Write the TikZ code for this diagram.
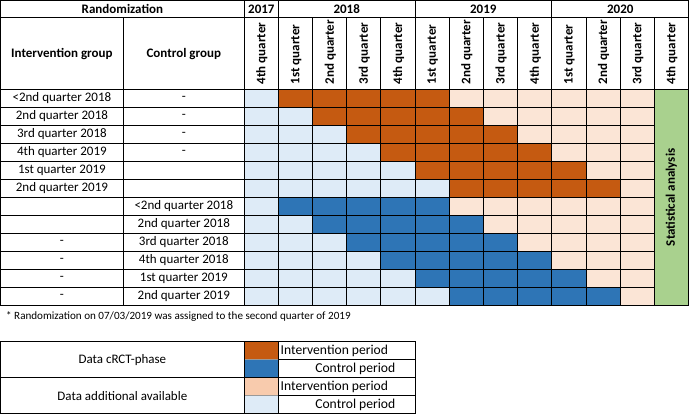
\documentclass[tikz,border=0pt]{standalone}
\usepackage{fontspec}
\setmainfont{Carlito}
\definecolor{dor}{HTML}{C55A11}
\definecolor{dbl}{HTML}{2E75B6}
\definecolor{lor}{HTML}{FBE5D6}
\definecolor{lorleg}{HTML}{F8CBAD}
\definecolor{lbl}{HTML}{DEEBF7}
\definecolor{grn}{HTML}{A9D18E}
\begin{document}
\begin{tikzpicture}[x=1pt,y=-1pt,
  font=\fontsize{13}{15}\selectfont,
  gridline/.style={draw=black,line width=1pt},
  hdr/.style={font=\fontsize{13}{15}\selectfont\bfseries,inner sep=0pt},
  qlab/.style={font=\fontsize{13}{15}\selectfont\bfseries,rotate=90,anchor=west,inner sep=0pt},
  txt/.style={inner sep=0pt},
  legtxt/.style={inner sep=0pt,font=\fontsize{13.6}{15}\selectfont},
  swatch/.style={draw=gray!80,line width=0.6pt}]
\useasboundingbox (0,0) rectangle (689,414);
% ---- cells
\foreach \r in {0,...,11}{
  \pgfmathtruncatemacro\k{mod(\r,6)}
  \foreach \c in {0,...,11}{
    \ifnum\c>\k
      \ifnum\c>\numexpr\k+5\relax \def\cc{lor}\else
        \ifnum\r<6 \def\cc{dor}\else \def\cc{dbl}\fi
      \fi
    \else \def\cc{lbl}\fi
    \fill[\cc] ({244.3+34.17*\c},{89.3+18*\r}) rectangle +(34.17,18);
  }
}
\fill[grn] (654.3,89.3) rectangle (688.3,305.3);
% ---- grid lines
\draw[gridline] (0.5,0.5) rectangle (688.3,305.3);
\draw[gridline] (0.5,18) -- (688.3,18);
\draw[gridline] (0.5,89.3) -- (688.3,89.3);
\foreach \j in {1,...,11}{
  \draw[gridline] (0.5,{89.3+18*\j}) -- (654.3,{89.3+18*\j});
}
\draw[gridline] (123.3,18) -- (123.3,305.3);
\draw[gridline] (244.3,0.5) -- (244.3,305.3);
\foreach \i in {2,3,4,6,7,8,10,11,12}{
  \draw[gridline] ({244.3+34.17*\i},18) -- ({244.3+34.17*\i},305.3);
}
\foreach \i in {1,5,9}{
  \draw[gridline] ({244.3+34.17*\i},0.5) -- ({244.3+34.17*\i},305.3);
}
% ---- header texts
\node[hdr] (rand) at (122.4,9.3) {Randomization};
\node[hdr] (y2017) at (261.4,9.3) {2017};
\node[hdr] (y2018) at (346.7,9.3) {2018};
\node[hdr] (y2019) at (483.3,9.3) {2019};
\node[hdr] (y2020) at (620.3,9.3) {2020};
\node[hdr] (igrp) at (61.9,54) {Intervention group};
\node[hdr] (cgrp) at (183.8,54) {Control group};
\foreach \lab [count=\n from 0] in {4th quarter,1st quarter,2nd quarter,3rd quarter,4th quarter,1st quarter,2nd quarter,3rd quarter,4th quarter,1st quarter,2nd quarter,3rd quarter,4th quarter}{
  \node[qlab] (q\n) at ({244.3+34.17*\n+17.6},84.5) {\lab};
}
\node[hdr,rotate=90] (stat) at (671.3,197.3) {Statistical analysis};
% ---- row texts
\foreach \a/\b [count=\n from 0] in {<2nd quarter 2018/-,2nd quarter 2018/-,3rd quarter 2018/-,4th quarter 2019/-,1st quarter 2019/,2nd quarter 2019/,/<2nd quarter 2018,/2nd quarter 2018,-/3rd quarter 2018,-/4th quarter 2018,-/1st quarter 2019,-/2nd quarter 2019}{
  \node[txt] (ra\n) at (61.9,{98.3+18*\n}) {\a};
  \node[txt] (rb\n) at (183.8,{98.3+18*\n}) {\b};
}
% ---- footnote
\node[txt,anchor=west,font=\fontsize{11.1}{13}\selectfont] (foot) at (6,316.7) {* Randomization on 07/03/2019 was assigned to the second quarter of 2019};
% ---- legend
\fill[dor] (244.3,341.7) rectangle (278.3,359.7);
\fill[dbl] (244.3,359.7) rectangle (278.3,377.7);
\fill[lorleg] (244.3,377.7) rectangle (278.3,395.7);
\fill[lbl] (244.3,395.7) rectangle (278.3,413.5);
\draw[swatch] (244.3,359.7) -- (278.3,359.7);
\draw[swatch] (244.3,395.7) -- (278.3,395.7);
\draw[gridline] (0.5,341.7) rectangle (415,413.5);
\draw[gridline] (0.5,377.7) -- (415,377.7);
\draw[gridline] (244.3,341.7) -- (244.3,413.5);
\draw[gridline] (278.3,341.7) -- (278.3,413.5);
\draw[gridline] (278.3,359.7) -- (415,359.7);
\draw[gridline] (278.3,395.7) -- (415,395.7);
\node[txt] (lg1) at (122.4,359.7) {Data cRCT-phase};
\node[txt] (lg2) at (122.4,395.7) {Data additional available};
\node[legtxt,anchor=west] (li1) at (280.5,350.7) {Intervention period};
\node[legtxt,anchor=east] (lc1) at (395.5,368.7) {Control period};
\node[legtxt,anchor=west] (li2) at (280.5,386.7) {Intervention period};
\node[legtxt,anchor=east] (lc2) at (395.5,404.6) {Control period};
\end{tikzpicture}
\end{document}
